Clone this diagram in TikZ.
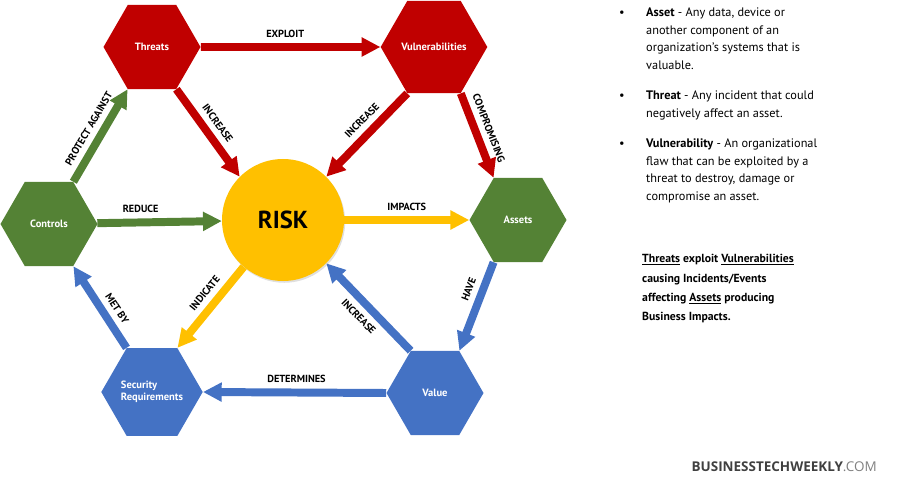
\documentclass[tikz,border=0pt]{standalone}
\usepackage{fontspec}
\setmainfont{PT Sans}
\newfontfamily\sitefont{Open Sans}
\usetikzlibrary{arrows.meta,shapes.geometric,shadows}

\definecolor{threatred}{HTML}{C00000}
\definecolor{ctrlgreen}{HTML}{548235}
\definecolor{riskyellow}{HTML}{FFC000}
\definecolor{valueblue}{HTML}{4472C4}
\definecolor{sitegray}{HTML}{404040}

\tikzset{
  hexa/.style={regular polygon, regular polygon sides=6, minimum size=2.91cm,
    inner sep=0pt, text=white, font=\bfseries\fontsize{9}{10.5}\selectfont},
  link/.style={line width=6.8pt, -{Triangle[width=15.5pt,length=16pt]}},
  lbl/.style={text=black, font=\bfseries\fontsize{8.8}{10}\selectfont, sloped, inner sep=2pt},
  notes/.style={anchor=north west, inner sep=0pt, align=left},
}

\begin{document}
\begin{tikzpicture}[x=0.03cm,y=-0.03cm]
\useasboundingbox (0,0) rectangle (900,483);

% hexagons and the risk circle
\node[hexa, fill=threatred] (threats) at (152,47) {Threats};
\node[hexa, fill=threatred] (vuln) at (434,47) {Vulnerabilities};
\node[hexa, fill=ctrlgreen] (controls) at (49,224) {Controls};
\node[hexa, fill=ctrlgreen] (assets) at (518,220) {Assets};
\node[hexa, fill=valueblue, align=left] (secreq) at (152,392) {Security\\Requirements};
\node[hexa, fill=valueblue] (value) at (435,393) {Value};
\node[circle, fill=riskyellow, minimum size=3.66cm, inner sep=0pt,
  drop shadow={shadow xshift=1pt, shadow yshift=-1.5pt, opacity=0.25},
  font=\bfseries\fontsize{21}{24}\selectfont] (risk) at (283,220) {RISK};

% red
\draw[link, threatred] (threats.east) -- node[lbl, above=3pt, pos=0.47] {EXPLOIT} (vuln.west);
\draw[link, threatred] (threats.-60) -- node[lbl, above=3pt, pos=0.48] {INCREASE} (risk.135);
\draw[link, threatred] (vuln.-120) -- node[lbl, above=3pt, pos=0.44] {INCREASE} (risk.45);
\draw[link, threatred] (vuln.-60) -- node[lbl, above=3pt, pos=0.47] {COMPROMISING} (assets.120);

% green
\draw[link, ctrlgreen] (controls.60) -- node[lbl, above=3pt, pos=0.5] {PROTECT AGAINST} (threats.-120);
\draw[link, ctrlgreen] (controls) -- node[lbl, above=3pt, pos=0.35] {REDUCE} (risk);

% yellow
\draw[link, riskyellow] (risk) -- node[lbl, above=3pt, pos=0.5] {IMPACTS} (assets);
\draw[link, riskyellow] (risk.-130) -- node[lbl, above=3pt, pos=0.43] {INDICATE} (secreq.60);

% blue
\draw[link, valueblue] (assets.-120) -- node[lbl, above=3pt, pos=0.36] {HAVE} (value.60);
\draw[link, valueblue] (value.120) -- node[lbl, below=3pt, pos=0.5] {INCREASE} (risk.-45);
\draw[link, valueblue] (value.west) -- node[lbl, above=3pt, pos=0.49] {DETERMINES} (secreq.east);
\draw[link, valueblue] (secreq.120) -- node[lbl, above=3pt, pos=0.39] {MET BY} (controls.-60);

% definitions on the right
\begin{scope}[font=\fontsize{10.5}{14.9}\selectfont]
\node[anchor=base] (dot1) at (622,17) {\textbullet};
\node[notes] (asset) at (646,8) {\textbf{Asset} - Any data, device or\\another component of an\\organization’s systems that is\\valuable.};
\node[anchor=base] (dot2) at (622,100) {\textbullet};
\node[notes] (threat) at (646,91) {\textbf{Threat} - Any incident that could\\negatively affect an asset.};
\node[anchor=base] (dot3) at (622,148) {\textbullet};
\node[notes] (vulnerab) at (646,139) {\textbf{Vulnerability} - An organizational\\flaw that can be exploited by a\\threat to destroy, damage or\\compromise an asset.};
\end{scope}

\node[notes, font=\bfseries\fontsize{10}{16.6}\selectfont] (summary) at (642,254)
  {\underline{Threats} exploit \underline{Vulnerabilities}\\causing Incidents/Events\\affecting \underline{Assets} producing\\Business Impacts.};

\node[anchor=base east, inner sep=0pt, text=sitegray, font=\sitefont\fontsize{11.5}{13}\selectfont]
  (site) at (877,471) {\textbf{BUSINESSTECHWEEKLY}{\color{gray}.COM}};
\end{tikzpicture}
\end{document}
